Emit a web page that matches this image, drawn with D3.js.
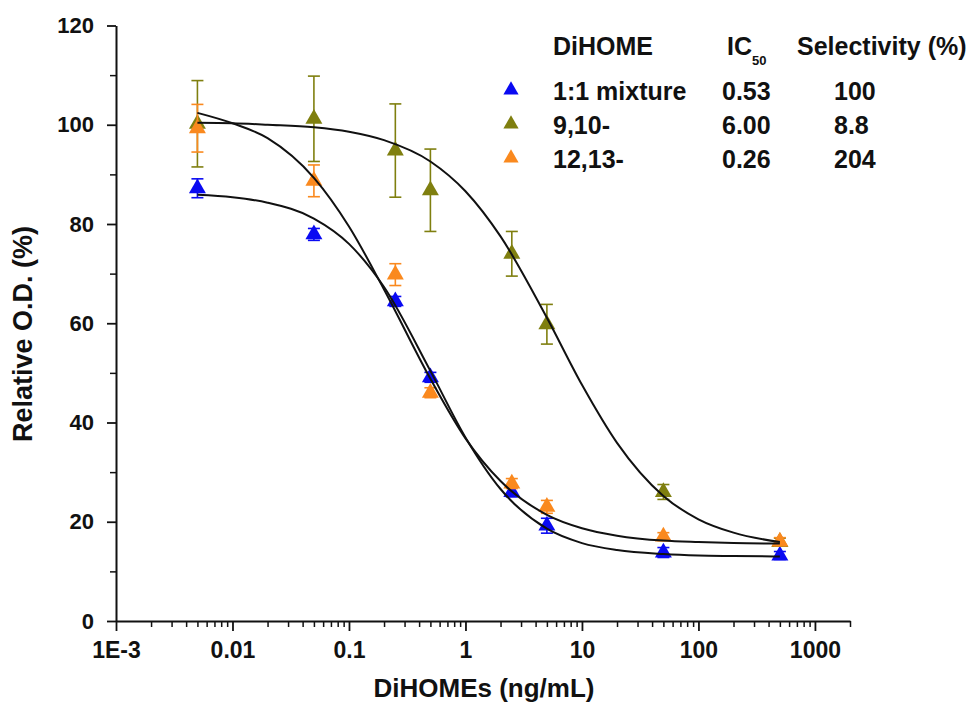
<!DOCTYPE html>
<html>
<head>
<meta charset="utf-8">
<script src="https://cdn.jsdelivr.net/npm/d3@7"></script>
<style>
body { margin: 0; background: #fff; }
text { font-family: "Liberation Sans", Arial, sans-serif; font-weight: bold; fill: #111; }
</style>
</head>
<body>
<div id="chart"></div>
<script>
let width = 980;
let height = 713;

// doses (ng/mL) and measured responses
const doses = [0.005, 0.05, 0.25, 0.5, 2.5, 5, 50, 500];
const mixVals = [87.2, 77.9, 64.4, 49.1, 26.0, 19.2, 13.8, 13.2];
const mixErr  = [1.9, 1.2, 1.0, 1.0, 1.0, 1.5, 1.0, 0.8];
const d910Vals = [100.2, 101.2, 94.8, 86.8, 74.0, 59.8, 26.0, 15.9];
const d910Err  = [8.7, 8.6, 9.4, 8.3, 4.5, 4.0, 1.5, 0.8];
const d1213Vals = [99.3, 88.7, 69.8, 46.0, 27.7, 23.0, 17.0, 16.0];
const d1213Err  = [4.8, 3.2, 2.2, 1.0, 1.0, 1.3, 0.8, 0.8];

// fitted curves
const fitX = [0.005, 0.01, 0.02, 0.05, 0.1, 0.2, 0.5, 1, 2, 5, 10, 20, 50, 100, 200, 500];
const mixFit   = [85.9, 85.4, 84.3, 81.1, 76.0, 67.3, 50.4, 37.0, 26.6, 18.6, 15.7, 14.3, 13.5, 13.2, 13.1, 13.0];
const d910Fit  = [100.4, 100.3, 100.0, 99.5, 98.6, 96.9, 92.6, 86.6, 77.5, 61.1, 47.6, 35.9, 25.2, 20.5, 17.8, 15.9];
const d1213Fit = [102.4, 100.3, 97.3, 89.3, 79.5, 66.8, 48.8, 36.8, 28.2, 21.4, 18.7, 17.2, 16.2, 15.9, 15.7, 15.6];

// axis ticks
const xTicks = [1e-3, 0.01, 0.1, 1, 10, 100, 1000];
const xTickLabels = ["1E-3", "0.01", "0.1", "1", "10", "100", "1000"];
const yTicks = [0, 20, 40, 60, 80, 100, 120];
const yMinor = [10, 30, 50, 70, 90, 110];

// legend table
const names = ["1:1 mixture", "9,10-", "12,13-"];
const ic50 = ["0.53", "6.00", "0.26"];
const selectivity = ["100", "8.8", "204"];
const colors = ["#0a0af2", "#7f7f0f", "#fa891e"];

const series = [
  { vals: mixVals, err: mixErr, fit: mixFit, color: colors[0] },
  { vals: d910Vals, err: d910Err, fit: d910Fit, color: colors[1] },
  { vals: d1213Vals, err: d1213Err, fit: d1213Fit, color: colors[2] }
];

let x = d3.scaleLog().domain([1e-3, 2000]).range([116, 850]);
let y = d3.scaleLinear().domain([0, 120]).range([621, 25.5]);

let svg = d3.select("#chart").append("svg")
  .attr("width", width)
  .attr("height", height)
  .attr("viewBox", [0, 0, width, height]);

svg.append("rect").attr("width", width).attr("height", height).attr("fill", "#fff");

// x axis
let minorX = x.ticks().filter(d => Math.abs(Math.log10(d) - Math.round(Math.log10(d))) > 1e-6);

svg.append("g")
  .attr("transform", `translate(0,${y(0)})`)
  .call(d3.axisBottom(x).tickValues(minorX).tickSize(6).tickFormat(""))
  .call(g => g.select(".domain").remove())
  .selectAll("line").attr("stroke-width", 1.5).attr("stroke", "#111");

let xAxis = svg.append("g")
  .attr("transform", `translate(0,${y(0)})`)
  .call(d3.axisBottom(x).tickValues(xTicks).tickSizeInner(10).tickSizeOuter(0).tickPadding(11)
    .tickFormat((d, i) => xTickLabels[i]));
xAxis.select(".domain").attr("stroke-width", 2).attr("stroke", "#111");
xAxis.selectAll("line").attr("stroke-width", 1.8).attr("stroke", "#111");
xAxis.selectAll("text").style("font-size", "23px");

// y axis
svg.append("g")
  .attr("transform", `translate(${x(1e-3)},0)`)
  .call(d3.axisLeft(y).tickValues(yMinor).tickSize(6).tickFormat(""))
  .call(g => g.select(".domain").remove())
  .selectAll("line").attr("stroke-width", 1.5).attr("stroke", "#111");

let yAxis = svg.append("g")
  .attr("transform", `translate(${x(1e-3)},0)`)
  .call(d3.axisLeft(y).tickValues(yTicks).tickSizeInner(9).tickSizeOuter(0).tickPadding(13));
yAxis.select(".domain").attr("stroke-width", 2).attr("stroke", "#111");
yAxis.selectAll("line").attr("stroke-width", 1.8).attr("stroke", "#111");
yAxis.selectAll("text").style("font-size", "22px");

// axis titles
svg.append("text")
  .attr("x", 484).attr("y", 697)
  .attr("text-anchor", "middle")
  .style("font-size", "26px")
  .text("DiHOMEs (ng/mL)");

svg.append("text")
  .attr("transform", "translate(32,334) rotate(-90)")
  .attr("text-anchor", "middle")
  .style("font-size", "27px")
  .text("Relative O.D. (%)");

// points + error bars
let tri = d3.symbol().type(d3.symbolTriangle).size(125);

series.forEach(s => {
  let g = svg.append("g");
  let pts = doses.map((d, i) => ({ d: d, v: s.vals[i], e: s.err[i] }));
  let eb = g.selectAll(".eb").data(pts).join("g").attr("class", "eb")
    .attr("stroke", s.color).attr("stroke-width", 1.6);
  eb.append("line")
    .attr("x1", p => x(p.d)).attr("x2", p => x(p.d))
    .attr("y1", p => y(p.v - p.e)).attr("y2", p => y(p.v + p.e));
  eb.append("line")
    .attr("x1", p => x(p.d) - 6).attr("x2", p => x(p.d) + 6)
    .attr("y1", p => y(p.v + p.e)).attr("y2", p => y(p.v + p.e));
  eb.append("line")
    .attr("x1", p => x(p.d) - 6).attr("x2", p => x(p.d) + 6)
    .attr("y1", p => y(p.v - p.e)).attr("y2", p => y(p.v - p.e));
  g.selectAll("path").data(pts).join("path")
    .attr("d", tri)
    .attr("transform", p => `translate(${x(p.d)},${y(p.v)})`)
    .attr("fill", s.color);
});

// fitted curves
let line = d3.line()
  .x(d => x(d[0]))
  .y(d => y(d[1]))
  .curve(d3.curveMonotoneX);

series.forEach(s => {
  svg.append("path")
    .datum(fitX.map((d, i) => [d, s.fit[i]]))
    .attr("d", line)
    .attr("fill", "none")
    .attr("stroke", "#111")
    .attr("stroke-width", 2);
});

// legend table
let lg = svg.append("g").style("font-size", "25px");
lg.append("text").attr("x", 553).attr("y", 55).text("DiHOME");
let ic = lg.append("text").attr("x", 727).attr("y", 55);
ic.append("tspan").text("IC");
ic.append("tspan").attr("dy", 10).style("font-size", "13px").text("50");
lg.append("text").attr("x", 797).attr("y", 55).text("Selectivity (%)");

names.forEach((n, i) => {
  let yy = 100 + i * 34;
  lg.append("path")
    .attr("d", d3.symbol().type(d3.symbolTriangle).size(100))
    .attr("transform", `translate(511,${yy - 10})`)
    .attr("fill", colors[i]);
  lg.append("text").attr("x", 553).attr("y", yy).text(n);
  lg.append("text").attr("x", 722).attr("y", yy).text(ic50[i]);
  lg.append("text").attr("x", 834).attr("y", yy).text(selectivity[i]);
});
</script>
</body>
</html>
